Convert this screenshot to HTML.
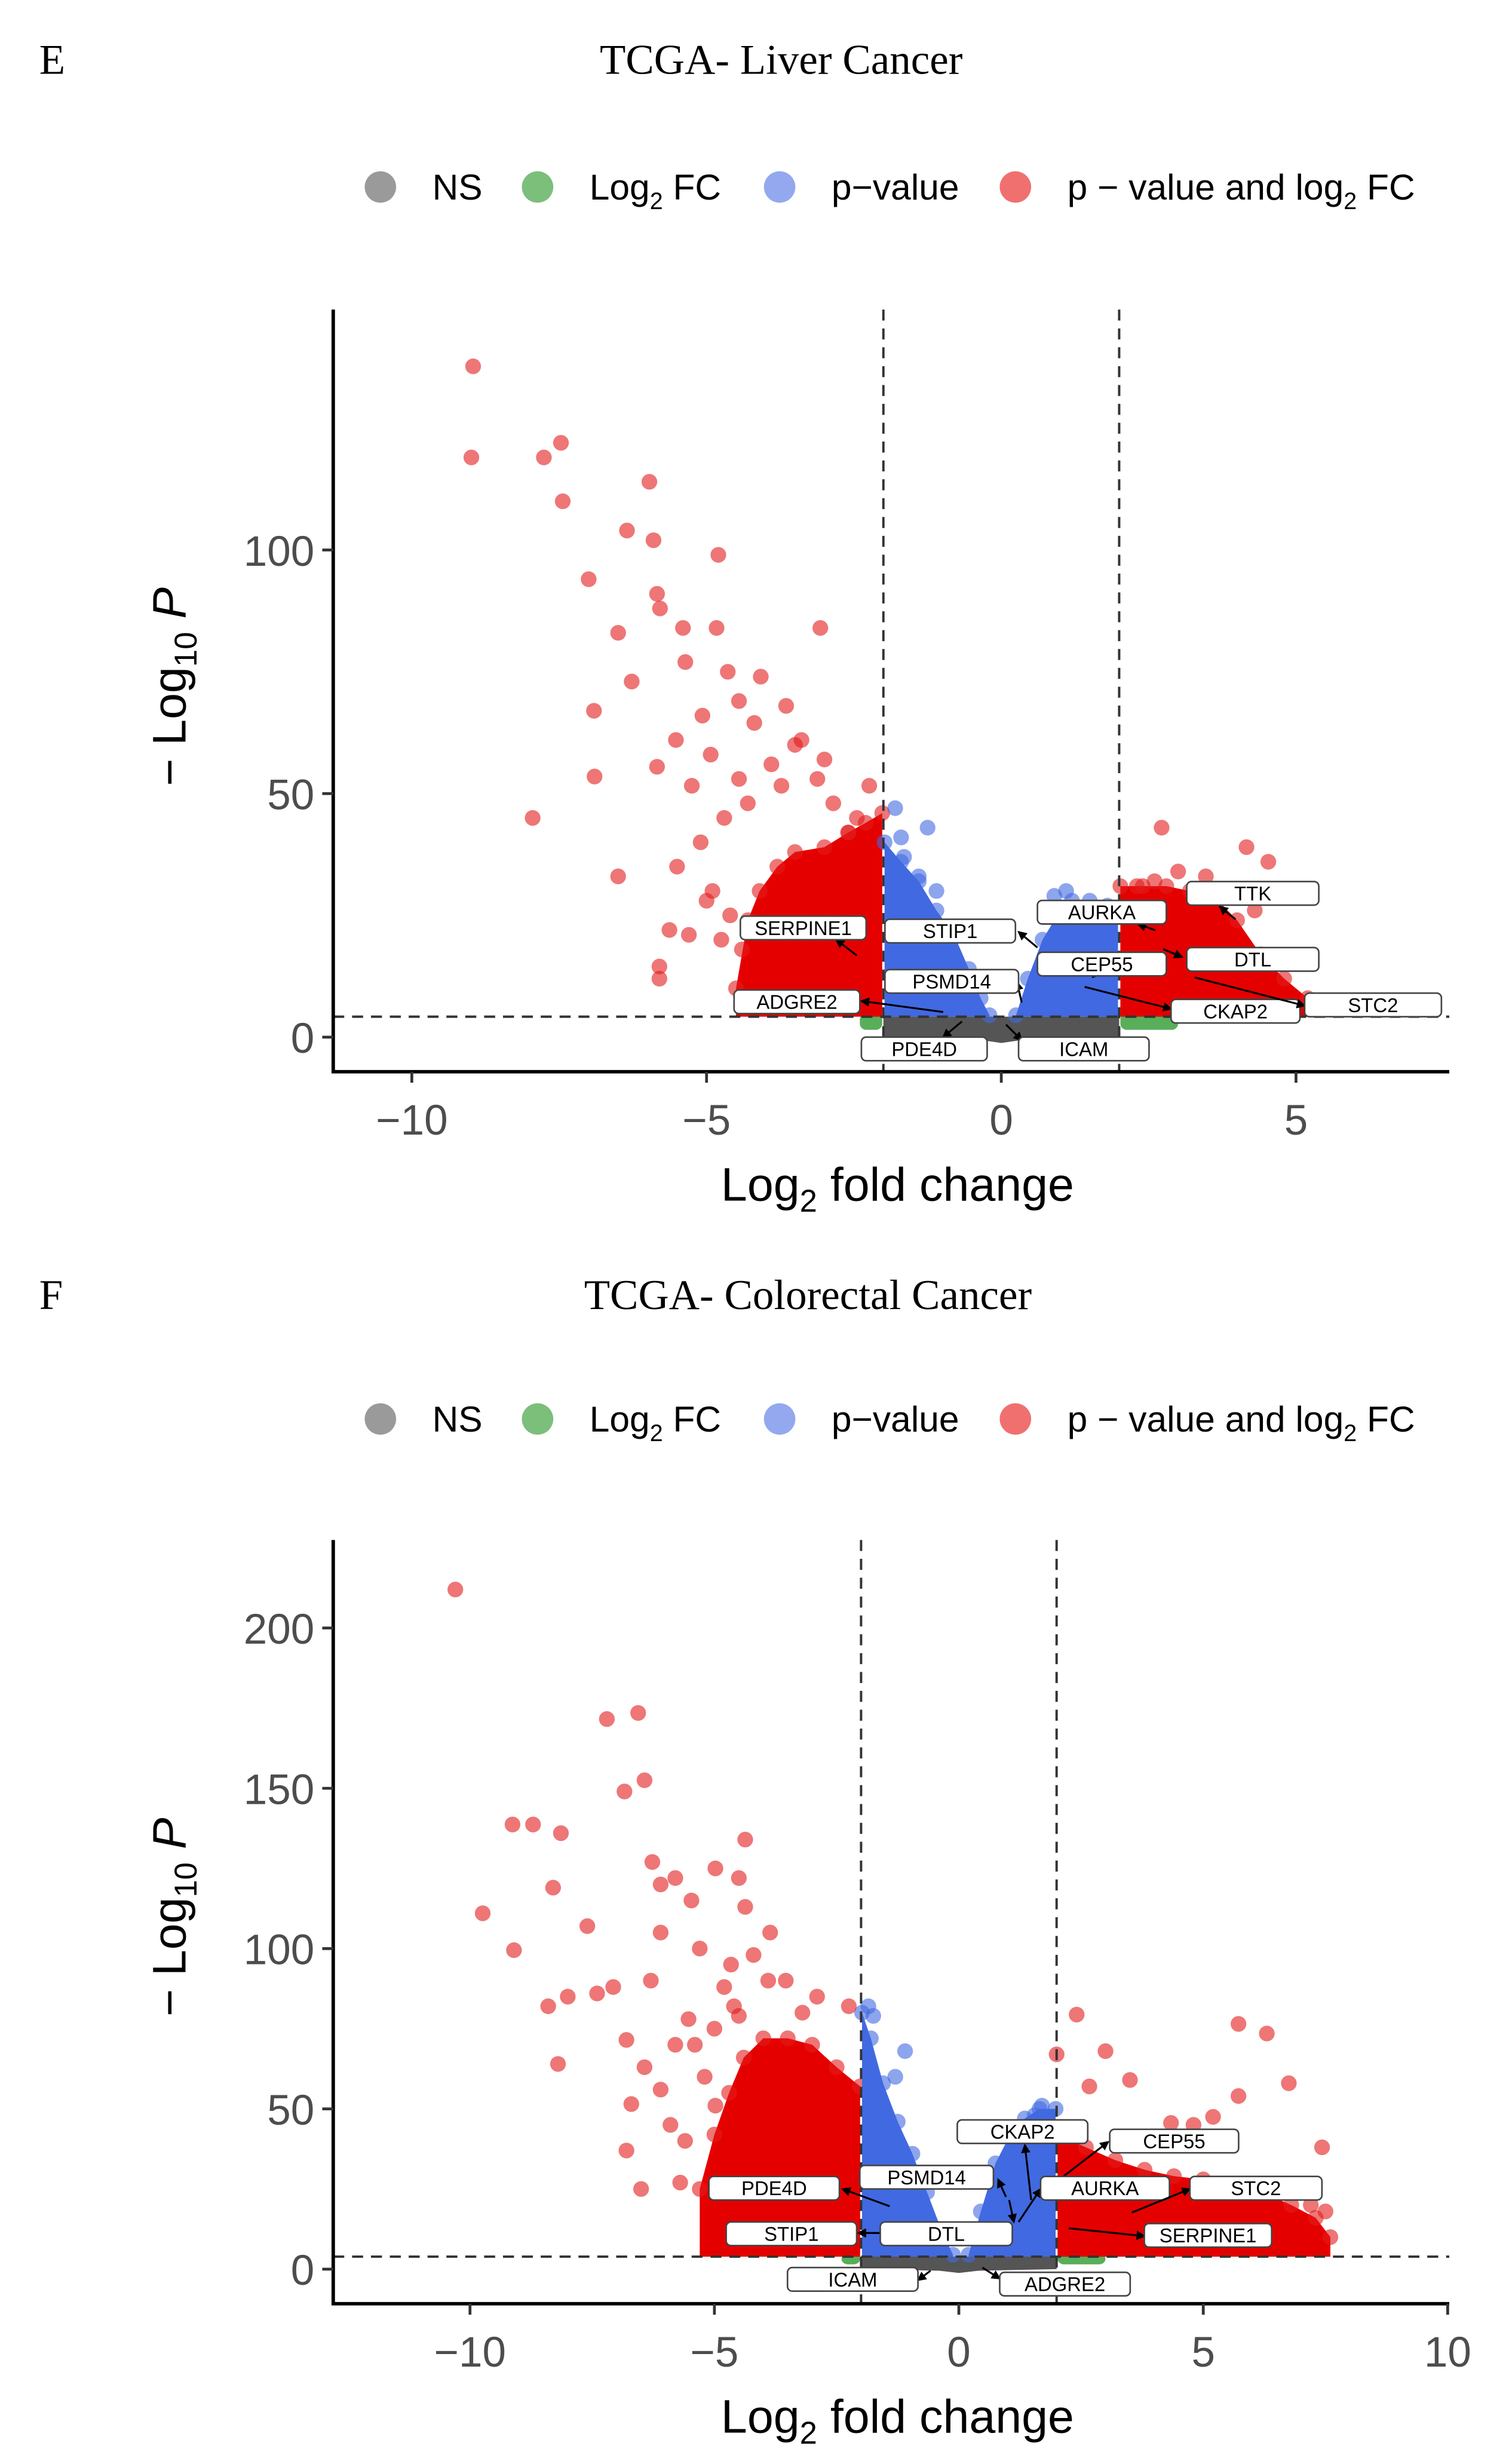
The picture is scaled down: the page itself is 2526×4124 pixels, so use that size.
<!DOCTYPE html>
<html><head><meta charset="utf-8"><style>
html,body{margin:0;padding:0;background:#fff}
svg{display:block}
.tk{font-family:"Liberation Sans",sans-serif;font-size:27px;fill:#4d4d4d}
.ttl{font-family:"Liberation Serif",serif;font-size:27px;fill:#000}
.lg{font-family:"Liberation Sans",sans-serif;font-size:23px;fill:#000}
.ax{font-family:"Liberation Sans",sans-serif;font-size:30px;fill:#000}
.lb{font-family:"Liberation Sans",sans-serif;font-size:12.5px;fill:#000}
</style></head><body>
<svg id="fig" width="2526" height="4124" viewBox="0 0 960 1568" preserveAspectRatio="none" xmlns="http://www.w3.org/2000/svg">
<defs><marker id="ar" viewBox="0 0 6 6" refX="5" refY="3" markerWidth="5" markerHeight="5" orient="auto"><path d="M0,0L6,3L0,6z" fill="#000"/></marker></defs>
</svg>
<script>
// ---------- Panel E data (log2FC, -log10P) ----------
const eOutX=[-8.96,-8.99,-7.47,-7.76,-7.44,-5.97,-6.35,-5.9,-4.8,-7.0,-5.84,-5.79,-6.5,-5.4,-4.83,-3.07,-6.27,-6.91,-7.95,-6.9,-6.5,-5.8,-5.8,-5.3,-5.63,-5.36,-4.64,-4.08,-5.07,-4.45,-4.19,-3.65,-3.39,-4.93,-5.52,-5.84,-5.25,-4.45,-3.73,-3.12,-2.85,-2.45,-2.24,-2.59,-4.7,-5.1,-4.3,-3.9,-5.5,-4.9,-4.6,-4.4,-5.0,-4.75,-3.5,-3.0];
const eOutY=[137.7,119,122,119,110,114,104,102,99,94,91,88,83,84,84,84,73,67,45,53.5,33,14.5,12,21,22,77,75,74,66,69,64.5,68,61,58,61,55.5,51.6,53,51.6,53,48,45,51.6,42,45,40,48,56,35,30,25,18,28,20,60,57];
const eRedLX=[-4.5,-4.3,-4.1,-3.8,-3.5,-3.0,-2.6,-2.3,-2.02];
const eRedLY=[10,24,30,35,38,39,42,44,46];
const eBlueLX=[-1.98,-1.7,-1.4,-1.1,-0.8,-0.55,-0.35,-0.2];
const eBlueLY=[40,36,32,26,21,14,8,4.5];
const eBlueRX=[0.25,0.45,0.7,0.95,1.2,1.5,1.8,1.98];
const eBlueRY=[4.5,12,20,25,28,28,27,26];
const eRedRX=[2.02,2.4,2.8,3.2,3.6,4.0,4.4,4.8,5.2];
const eRedRY=[31,31,31,30,29,24,17,12,8];
const eBlueOutX=[-1.8,-1.25,-1.7,-1.65,-1.4,-1.1,0.9,1.1];
const eBlueOutY=[47,43,41,37,33,30,29,30];
const eRedROutX=[2.72,4.16,4.53,3.47,2.3,2.6,3.0,3.9,4.3];
const eRedROutY=[43,39,36,33,31,32,34,30,26];
// ---------- Panel F data ----------
const fOutX=[-10.3,-7.2,-6.56,-6.84,-6.43,-9.13,-8.71,-8.14,-4.37,-8.3,-9.74,-9.1,-8.4,-8.2,-7.6,-7.4,-6.8,-6.7,-6.8,-6.5,-5.7,-5.6,-8.0,-7.07,-6.3,-6.1,-6.27,-5.8,-5.47,-4.98,-4.5,-4.37,-6.1,-5.3,-4.66,-3.86,-3.54,-2.9,-2.25,-5.8,-4.5,-6.1,-6.43,-5.53,-4.98,-5.2,-4.8,-5.9,-4.2,-3.2,-5.4,-5.0,-4.6,-3.9];
const fOutY=[212,171.6,173.5,149,152.5,138.7,138.7,136,134,119,111,99.5,82,64,107,86,71.5,51.5,37,25,27,40,85,88,90,120,127,122,115,125,122,113,105,100,95,105,90,85,82,70,79,56,63,78,51,60,88,45,98,80,70,75,82,90];
const fRedLX=[-5.3,-5.0,-4.7,-4.4,-4.0,-3.5,-3.0,-2.5,-2.02];
const fRedLY=[25,42,55,66,72,72,70,63,57];
const fBlueLX=[-1.98,-1.8,-1.55,-1.25,-0.95,-0.65,-0.35,-0.12];
const fBlueLY=[80,72,58,46,36,24,12,4.5];
const fBlueRX=[0.2,0.45,0.75,1.05,1.35,1.65,1.98];
const fBlueRY=[4.5,18,33,42,47,50,50];
const fRedRX=[2.02,2.6,3.2,3.8,4.4,5.0,5.6,6.2,6.8,7.3,7.6];
const fRedRY=[42,38,34,31,29,28,26,24,20,16,10];
const fRedROutX=[2.41,2.0,2.67,3.0,3.5,5.72,6.3,6.75,5.72,5.2,7.43,4.34,4.8,7.2,7.5,6.5];
const fRedROutY=[79.4,67,57,68,59,76.5,73.5,58,54,47.5,38,45.6,45,20,18,25];
const fBlueOutX=[-1.85,-1.75,-1.1,-1.3,1.7,1.55];
const fBlueOutY=[82,79,68,60,51,48];

const NS="http://www.w3.org/2000/svg";
const svg=document.getElementById('fig');
function mk(tag,attrs,parent){const e=document.createElementNS(NS,tag);for(const k in attrs)e.setAttribute(k,attrs[k]);(parent||svg).appendChild(e);return e;}

function panel(P){
  const g=mk('g',{});
  
  
  const sx=v=>P.x0+v*P.kx, sy=v=>P.y0-v*P.ky;
  let t=mk('text',{x:25,y:P.titleY,class:'ttl'},g);t.textContent=P.letter;
  
  t=mk('text',{x:P.titleX,y:P.titleY,class:'ttl','text-anchor':'middle'},g);t.textContent=P.title;
  
  const lg=mk('g',{},g);
  
  const items=[[242,'#9a9a9a','NS'],[342,'#7bbf7b','Log<tspan font-size="15" dy="6">2</tspan><tspan dy="-6"> FC</tspan>'],[496,'#93a8ef','p−value'],[646,'#f07070','p − value and log<tspan font-size="15" dy="6">2</tspan><tspan dy="-6"> FC</tspan>']];
  items.forEach(it=>{
    const e=mk('g',{},lg);
    
    mk('circle',{cx:it[0],cy:P.legY,r:10,fill:it[1]},e);
    const tx=mk('text',{x:it[0]+33,y:P.legY+8,class:'lg'},e);tx.innerHTML=it[2];
  });
  const ns=mk('path',{d:`M${sx(-2)},${sy(P.thr)} L${sx(2)},${sy(P.thr)} L${sx(2)},${sy(0)} L${sx(0.4)},${sy(-0.5)} L${sx(0)},${sy(-1.2)} L${sx(-0.4)},${sy(-0.5)} L${sx(-2)},${sy(0)} Z`,fill:'#555'},g);
  
  [[-2.4,-2.02],[2.02,3.0]].forEach(r=>{
    const gr=mk('rect',{x:sx(r[0]),y:sy(P.thr)-2,width:sx(r[1])-sx(r[0]),height:sy(1.5)-sy(P.thr)+2,rx:4,fill:'#2f9a2f',opacity:0.8},g);
    
  });
  function cloud(X,Y,col,dot,name){
    let d=`M${sx(X[0])},${sy(P.thr)}`;
    X.forEach((x,i)=>{d+=` L${sx(x)},${sy(Y[i])}`});
    d+=` L${sx(X[X.length-1])},${sy(P.thr)} Z`;
    const p=mk('path',{d:d,fill:col},g);
    
    X.forEach((x,i)=>{const c=mk('circle',{cx:sx(x),cy:sy(Y[i]),r:5,fill:dot,'fill-opacity':0.6},g);
      });
  }
  cloud(P.redLX,P.redLY,'#e50000','#e31a1a','down-significant-cloud');
  cloud(P.blueLX,P.blueLY,'#4169e1','#4169e1','down-pvalue-cloud');
  cloud(P.blueRX,P.blueRY,'#4169e1','#4169e1','up-pvalue-cloud');
  cloud(P.redRX,P.redRY,'#e50000','#e31a1a','up-significant-cloud');
  function pts(X,Y,col,name){X.forEach((x,i)=>{
    const c=mk('circle',{cx:sx(x),cy:sy(Y[i]),r:5,fill:col,'fill-opacity':0.6},g);
    });}
  pts(P.outX,P.outY,'#e31a1a','red-point');
  pts(P.rOutX,P.rOutY,'#e31a1a','red-point');
  pts(P.bOutX,P.bOutY,'#4169e1','blue-point');
  [-2,2].forEach(v=>{const l=mk('line',{x1:sx(v),x2:sx(v),y1:P.top,y2:P.axY,stroke:'#333','stroke-width':1.5,'stroke-dasharray':'7,5'},g);
    });
  let l=mk('line',{x1:P.axX,x2:922,y1:sy(P.thr),y2:sy(P.thr),stroke:'#333','stroke-width':1.5,'stroke-dasharray':'7,5'},g);
  
  P.labels.forEach(L=>{
    const lg2=mk('g',{},g);
    
    mk('line',{x1:L[4],y1:L[5],x2:L[6],y2:L[7],stroke:'#000','stroke-width':1.2,'marker-end':'url(#ar)'},lg2);
    mk('rect',{x:L[1],y:L[2],width:L[3],height:15,rx:3,fill:'#fff',stroke:'#444','stroke-width':1},lg2);
    const tx=mk('text',{x:L[1]+L[3]/2,y:L[2]+12,class:'lb','text-anchor':'middle'},lg2);tx.textContent=L[0];
  });
  l=mk('path',{d:`M${P.axX},${P.top} L${P.axX},${P.axY} L922,${P.axY}`,fill:'none',stroke:'#000','stroke-width':2.2},g);
  
  P.xt.forEach(v=>{mk('line',{x1:sx(v),x2:sx(v),y1:P.axY,y2:P.axY+7,stroke:'#333','stroke-width':1.8},g);
    const tx=mk('text',{x:sx(v),y:P.axY+40,class:'tk','text-anchor':'middle'},g);tx.textContent=(v<0?'−':'')+Math.abs(v);
    });
  P.yt.forEach(v=>{mk('line',{x1:P.axX-7,x2:P.axX,y1:sy(v),y2:sy(v),stroke:'#333','stroke-width':1.8},g);
    const tx=mk('text',{x:P.axX-12,y:sy(v)+10,class:'tk','text-anchor':'end'},g);tx.textContent=v;
    });
  t=mk('text',{x:571,y:P.axY+82,class:'ax','text-anchor':'middle'},g);
  t.innerHTML='Log<tspan font-size="20" dy="7">2</tspan><tspan dy="-7"> fold change</tspan>';
  
  t=mk('text',{x:0,y:0,class:'ax','text-anchor':'middle',transform:`translate(118,${P.ytY}) rotate(-90)`},g);
  t.innerHTML='− Log<tspan font-size="20" dy="7">10</tspan><tspan dy="-7" font-style="italic"> P</tspan>';
  
}

panel({name:'liver-cancer-volcano',letter:'E',title:'TCGA- Liver Cancer',titleX:497,titleY:47,legY:119,
  x0:637,kx:37.5,y0:660,ky:3.1,thr:4.2,top:197,axY:682,axX:212,ytY:437,
  xt:[-10,-5,0,5],yt:[0,50,100],
  outX:eOutX,outY:eOutY,redLX:eRedLX,redLY:eRedLY,blueLX:eBlueLX,blueLY:eBlueLY,blueRX:eBlueRX,blueRY:eBlueRY,redRX:eRedRX,redRY:eRedRY,
  rOutX:eRedROutX,rOutY:eRedROutY,bOutX:eBlueOutX,bOutY:eBlueOutY,
  labels:[['TTK',755,561,84,786,585,776,577],['AURKA',660,573,82,735,592,724,588],['SERPINE1',471,583,80,545,608,532,598],['STIP1',563,585,83,660,603,648,593],['DTL',755,603,84,740,604,752,609],['CEP55',660,606,82,690,619,700,620],['PSMD14',563,617,85,650,638,647,625],['ADGRE2',467,630,80,600,644,548,637],['CKAP2',745,636,82,690,628,745,642],['STC2',830,632,87,760,622,830,640],['PDE4D',548,660,80,612,650,600,660],['ICAM',648,660,83,640,652,650,662]]
});
panel({name:'colorectal-cancer-volcano',letter:'F',title:'TCGA- Colorectal Cancer',titleX:514,titleY:833,legY:903,
  x0:610,kx:31.1,y0:1444,ky:2.04,thr:3.9,top:980,axY:1466,axX:212,ytY:1220,
  xt:[-10,-5,0,5,10],yt:[0,50,100,150,200],
  outX:fOutX,outY:fOutY,redLX:fRedLX,redLY:fRedLY,blueLX:fBlueLX,blueLY:fBlueLY,blueRX:fBlueRX,blueRY:fBlueRY,redRX:fRedRX,redRY:fRedRY,
  rOutX:fRedROutX,rOutY:fRedROutY,bOutX:fBlueOutX,bOutY:fBlueOutY,
  labels:[['CKAP2',609,1349,83,656,1400,652,1365],['CEP55',706,1355,82,670,1390,705,1363],['PSMD14',547,1378,85,640,1398,635,1387],['PDE4D',451,1385,83,566,1404,536,1393],['AURKA',662,1385,82,648,1414,662,1393],['STC2',757,1385,84,720,1408,757,1393],['STIP1',462,1414,83,560,1421,546,1421],['DTL',560,1414,84,642,1400,645,1414],['SERPINE1',728,1415,81,680,1418,728,1423],['ICAM',501,1443,83,592,1445,584,1451],['ADGRE2',636,1446,83,625,1443,636,1450]]
});
</script>
</body></html>
